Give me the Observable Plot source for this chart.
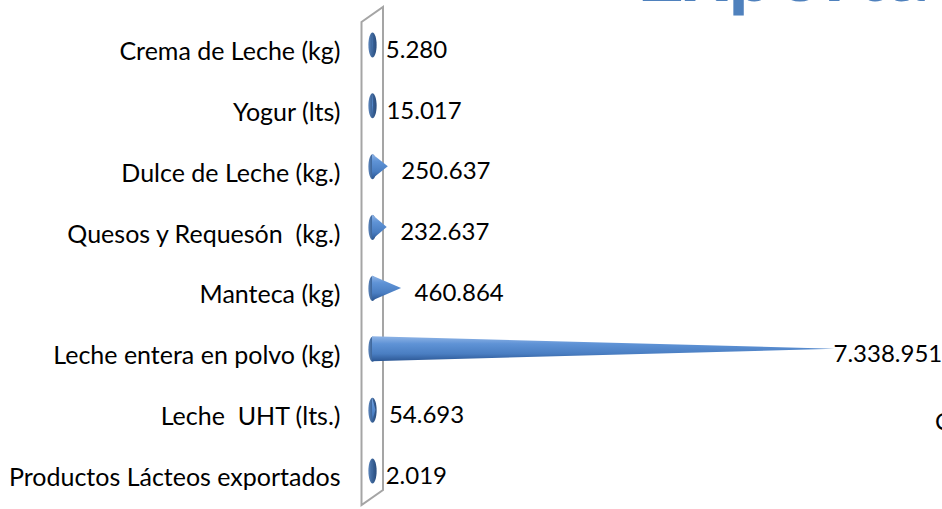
<!DOCTYPE html>
<html><head><meta charset="utf-8">
<script src="https://cdn.jsdelivr.net/npm/d3@7"></script>
<script src="https://cdn.jsdelivr.net/npm/@observablehq/plot@0.6"></script>
<style>
html,body{margin:0;padding:0;background:#fff;overflow:hidden;width:942px;height:509px;}
#wrap{position:relative;width:942px;height:509px;overflow:hidden;}
#chart{position:absolute;left:0;top:0;}
#title{position:absolute;left:636px;top:-82px;font:bold 84px Lato, sans-serif;color:#4f81bd;white-space:nowrap;}
#legend{position:absolute;left:935px;top:406px;font:24px Lato, sans-serif;color:#000;white-space:nowrap;}
</style></head><body>
<div id="wrap"><div id="chart"></div><div id="title">Exportaciones</div><div id="legend">Cantidad</div></div>
<script>
const categories = [
  "Crema de Leche (kg)",
  "Yogur (lts)",
  "Dulce de Leche (kg.)",
  "Quesos y Requesón  (kg.)",
  "Manteca (kg)",
  "Leche entera en polvo (kg)",
  "Leche  UHT (lts.)",
  "Productos Lácteos exportados"
];
const values = [5280, 15017, 250637, 232637, 460864, 7338951, 54693, 2019];

const fmt = d3.formatLocale({decimal: ",", thousands: ".", grouping: [3], currency: ["", ""]}).format(",d");
const rows = categories.map((c, i) => ({c, i, v: values[i]}));
const halfH = 0.205; // half cone height, in category steps
const coneData = rows.flatMap(d => [
  {c: d.c, y: d.i - halfH, x: 0},
  {c: d.c, y: d.i, x: d.v},
  {c: d.c, y: d.i + halfH, x: 0}
]);
const maxV = d3.max(values);

const ellipse = {
  draw(ctx, size) {
    const r = Math.sqrt(size / Math.PI), rx = r * 0.33, ry = r, k = 0.5523;
    ctx.moveTo(rx, 0);
    ctx.bezierCurveTo(rx, ry * k, rx * k, ry, 0, ry);
    ctx.bezierCurveTo(-rx * k, ry, -rx, ry * k, -rx, 0);
    ctx.bezierCurveTo(-rx, -ry * k, -rx * k, -ry, 0, -ry);
    ctx.bezierCurveTo(rx * k, -ry, rx, -ry * k, rx, 0);
    ctx.closePath();
  }
};

const defsMark = () => {
  const defs = d3.create("svg:defs");
  const g1 = defs.append("linearGradient").attr("id", "coneGrad").attr("x1", 0).attr("y1", 0).attr("x2", 0).attr("y2", 1);
  [[0, "#8fb4e6"], [0.3, "#5f93d6"], [0.7, "#4a7ec2"], [1, "#2c5794"]].forEach(([o, c]) => g1.append("stop").attr("offset", o).attr("stop-color", c));
  const g2 = defs.append("linearGradient").attr("id", "baseGrad").attr("x1", 0).attr("y1", 0).attr("x2", 1).attr("y2", 0);
  [[0, "#5b84ba"], [0.5, "#3a6296"], [1, "#2a4d7e"]].forEach(([o, c]) => g2.append("stop").attr("offset", o).attr("stop-color", c));
  return defs.node();
};

const wallMark = (index, scales) => {
  const x0 = scales.x(0), yt = scales.y(0), yb = scales.y(categories.length - 1);
  const L = x0 - 10.5, R = x0 + 11;
  const p = d3.create("svg:path")
    .attr("d", `M${L},${yt - 22.5}L${R},${yt - 37.5}L${R},${yb + 19.5}L${L},${yb + 34.5}Z`)
    .attr("fill", "none").attr("stroke", "#a5a5a5").attr("stroke-width", 2);
  return p.node();
};

const chart = Plot.plot({
  width: 942, height: 509,
  marginLeft: 372, marginRight: 107, marginTop: 0, marginBottom: 0,
  x: {domain: [0, maxV], range: [372, 835], axis: null},
  y: {domain: [0, categories.length - 1], range: [44.5, 470.5], axis: null},
  style: {fontFamily: "Lato, sans-serif", fontSize: "24px", background: "white", color: "black", overflow: "visible"},
  marks: [
    defsMark,
    wallMark,
    Plot.dot(rows, {x: 0, y: "i", r: 12.5, symbol: ellipse, fill: "url(#baseGrad)", stroke: "none"}),
    Plot.areaX(coneData, {x1: 0, x2: "x", y: "y", z: "c", fill: "url(#coneGrad)", curve: "linear"}),
    Plot.axisY(d3.range(categories.length), {tickFormat: i => categories[i], tickSize: 0, tickPadding: 32, dy: 7, fontSize: 25, label: null, fill: "black"}),
    Plot.text(rows.filter(d => d.v < maxV), {x: "v", y: "i", text: d => fmt(d.v), textAnchor: "start", dx: 13, dy: 5, fontSize: 24, fill: "black"}),
    Plot.text(rows.filter(d => d.v === maxV), {x: "v", y: "i", text: d => fmt(d.v), textAnchor: "start", dx: -2, dy: 5, fontSize: 24, fill: "black"})
  ]
});
document.getElementById("chart").appendChild(chart);
</script>
</body></html>
